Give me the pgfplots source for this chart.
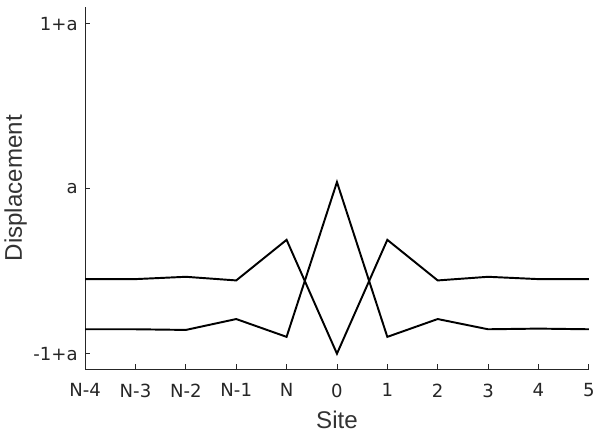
\documentclass[border=0pt]{standalone}
\usepackage{fontspec}
\setmainfont{Liberation Sans}
\newfontfamily\tickfont{DejaVu Sans}
\usepackage{pgfplots}
\pgfplotsset{compat=1.18}
\begin{document}
\begin{tikzpicture}
\begin{axis}[
  scale only axis,
  width=376pt, height=271pt,
  xmin=0, xmax=10, ymin=-1.097, ymax=1.103,
  axis x line*=bottom, axis y line*=left,
  axis line style={black!85, line width=0.8pt, -},
  tick style={black!85, line width=0.6pt},
  tick align=inside,
  major tick length=4pt,
  xtick={0,1,2,3,4,5,6,7,8,9,10},
  xticklabels={N-4,N-3,N-2,N-1,N,0,1,2,3,4,5},
  ytick={-1,0,1},
  yticklabels={-1+a,a,1+a},
  ticklabel style={font=\tickfont\fontsize{13.5pt}{15pt}\selectfont, text=black!85},
  xticklabel style={yshift=-7pt},
  yticklabel style={xshift=-2pt},
  xlabel={Site}, ylabel={Displacement},
  label style={font=\fontsize{18pt}{21pt}\selectfont, text=black!80},
  xlabel style={yshift=-3pt},
  ylabel style={yshift=-2pt},
]
\addplot[black, line width=1.45pt] coordinates {
(0,-0.548) (1,-0.548) (2,-0.534) (3,-0.556) (4,-0.31) (5,-1.0) (6,-0.31) (7,-0.556) (8,-0.534) (9,-0.548) (10,-0.548)};
\addplot[black, line width=1.45pt] coordinates {
(0,-0.852) (1,-0.852) (2,-0.856) (3,-0.79) (4,-0.898) (5,0.04) (6,-0.898) (7,-0.79) (8,-0.852) (9,-0.848) (10,-0.852)};
\end{axis}
\path (current axis.north) ++(0,5pt);
\path (current bounding box.south) ++(0,-5pt);
\end{tikzpicture}
\end{document}
